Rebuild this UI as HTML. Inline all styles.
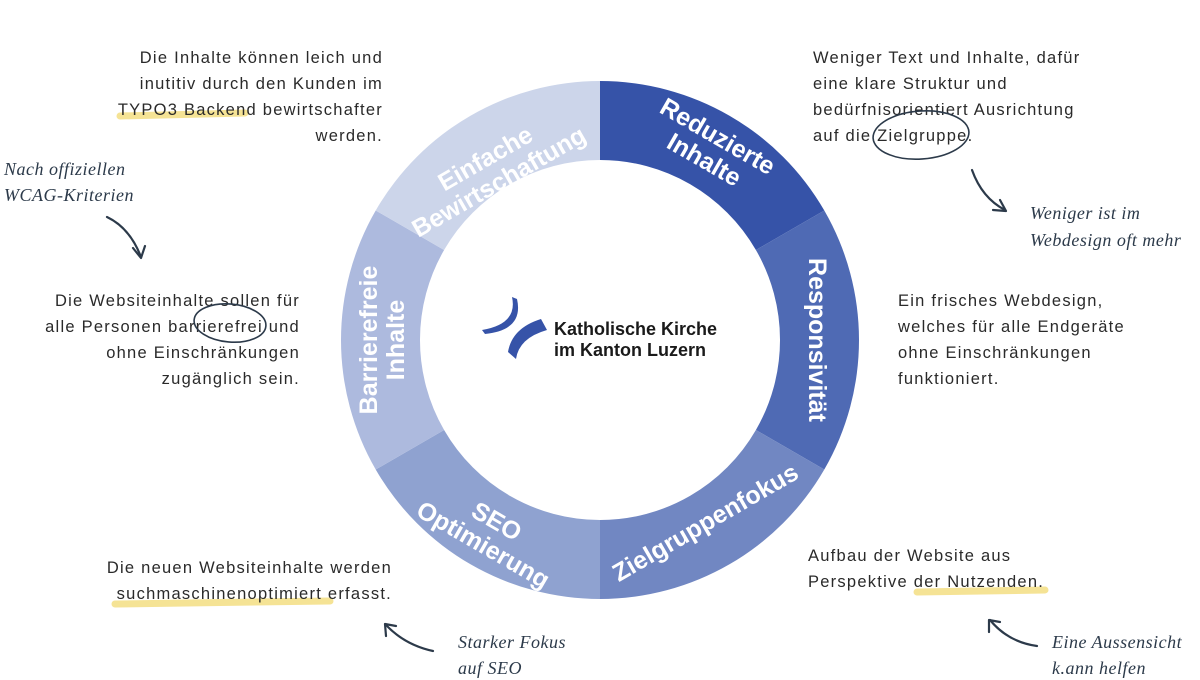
<!DOCTYPE html>
<html><head><meta charset="utf-8"><style>
html,body{margin:0;padding:0;background:#fff;}
svg{display:block}
.b{font-family:"Liberation Sans",sans-serif;font-size:16.5px;fill:#2a2a2a;letter-spacing:1.25px}
.h{font-family:"Liberation Serif",serif;font-style:italic;font-size:18px;fill:#2c3a4a;letter-spacing:0.5px}
.s{font-family:"Liberation Sans",sans-serif;font-size:25px;font-weight:bold;fill:#fff;text-anchor:middle}
</style></head><body>
<svg width="1200" height="680" viewBox="0 0 1200 680" xmlns="http://www.w3.org/2000/svg">
<!-- highlights -->
<path d="M120 116 L245 113" stroke="#f5e08a" stroke-width="7" stroke-linecap="round" opacity="0.9"/>
<path d="M115 604 L330 601" stroke="#f5e08a" stroke-width="7" stroke-linecap="round" opacity="0.9"/>
<path d="M917 592 L1045 590" stroke="#f5e08a" stroke-width="7" stroke-linecap="round" opacity="0.9"/>
<g>
<path d="M600 81 A259 259 0 0 1 824.3 210.5 L755.9 250 A180 180 0 0 0 600 160 Z" fill="#3653a8"/>
<path d="M824.3 210.5 A259 259 0 0 1 824.3 469.5 L755.9 430 A180 180 0 0 0 755.9 250 Z" fill="#4f6ab4"/>
<path d="M824.3 469.5 A259 259 0 0 1 600 599 L600 520 A180 180 0 0 0 755.9 430 Z" fill="#7187c2"/>
<path d="M600 599 A259 259 0 0 1 375.7 469.5 L444.1 430 A180 180 0 0 0 600 520 Z" fill="#8fa2d0"/>
<path d="M375.7 469.5 A259 259 0 0 1 375.7 210.5 L444.1 250 A180 180 0 0 0 444.1 430 Z" fill="#adbade"/>
<path d="M375.7 210.5 A259 259 0 0 1 600 81 L600 160 A180 180 0 0 0 444.1 250 Z" fill="#ccd5ea"/>
</g>
<g transform="translate(711,148) rotate(30)"><text class="s" y="-5">Reduzierte</text><text class="s" y="22">Inhalte</text></g>
<g transform="translate(818,340) rotate(90)"><text class="s" y="9">Responsivität</text></g>
<g transform="translate(705,522) rotate(-30)"><text class="s" y="9">Zielgruppenfokus</text></g>
<g transform="translate(490,533) rotate(30)"><text class="s" y="-5">SEO</text><text class="s" y="22">Optimierung</text></g>
<g transform="translate(382,340) rotate(-90)"><text class="s" y="-5">Barrierefreie</text><text class="s" y="22">Inhalte</text></g>
<g transform="translate(492,170) rotate(-30)"><text class="s" y="-5">Einfache</text><text class="s" y="22">Bewirtschaftung</text></g>
<!-- logo -->
<path d="M512 297 Q518 324 482 330 L485 334 Q524 330 517 299 Z" fill="#3653a8"/>
<path d="M541 319 Q512 328 508 352 L516 359 Q519 338 547 330 Z" fill="#3653a8"/>
<text x="554" y="335" font-family="Liberation Sans,sans-serif" font-weight="bold" font-size="18" fill="#1a1a1a">Katholische Kirche</text>
<text x="554" y="356" font-family="Liberation Sans,sans-serif" font-weight="bold" font-size="18" fill="#1a1a1a">im Kanton Luzern</text>
<g text-anchor="end">
<text x="383" y="63" class="b">Die Inhalte können leich und</text>
<text x="383" y="89" class="b">inutitiv durch den Kunden im</text>
<text x="383" y="115" class="b">TYPO3 Backend bewirtschafter</text>
<text x="383" y="141" class="b">werden.</text>
<text x="300" y="306" class="b">Die Websiteinhalte sollen für</text>
<text x="300" y="332" class="b">alle Personen barrierefrei und</text>
<text x="300" y="358" class="b">ohne Einschränkungen</text>
<text x="300" y="384" class="b">zugänglich sein.</text>
<text x="392" y="573" class="b">Die neuen Websiteinhalte werden</text>
<text x="392" y="599" class="b">suchmaschinenoptimiert erfasst.</text>
</g>
<text x="813" y="63" class="b">Weniger Text und Inhalte, dafür</text>
<text x="813" y="89" class="b">eine klare Struktur und</text>
<text x="813" y="115" class="b">bedürfnisorientiert Ausrichtung</text>
<text x="813" y="141" class="b">auf die Zielgruppe.</text>
<text x="898" y="306" class="b">Ein frisches Webdesign,</text>
<text x="898" y="332" class="b">welches für alle Endgeräte</text>
<text x="898" y="358" class="b">ohne Einschränkungen</text>
<text x="898" y="384" class="b">funktioniert.</text>
<text x="808" y="561" class="b">Aufbau der Website aus</text>
<text x="808" y="587" class="b">Perspektive der Nutzenden.</text>
<text x="4" y="175" class="h">Nach offiziellen</text>
<text x="4" y="201" class="h">WCAG-Kriterien</text>
<text x="1030" y="219" class="h">Weniger ist im</text>
<text x="1030" y="246" class="h">Webdesign oft mehr</text>
<text x="458" y="648" class="h">Starker Fokus</text>
<text x="458" y="674" class="h">auf SEO</text>
<text x="1052" y="648" class="h">Eine Aussensicht</text>
<text x="1052" y="674" class="h">k.ann helfen</text>
<ellipse cx="230" cy="323" rx="36" ry="19" fill="none" stroke="#2c3a4a" stroke-width="1.6" transform="rotate(5 230 323)"/>
<ellipse cx="921" cy="135" rx="48" ry="24" fill="none" stroke="#2c3a4a" stroke-width="1.6" transform="rotate(-4 921 135)"/>
<g fill="none" stroke="#2c3a4a" stroke-width="2.2" stroke-linecap="round" stroke-linejoin="round">
<path d="M107 217 Q130 228 141 257"/><path d="M133 248 L141 258 L145 246"/>
<path d="M972 170 Q982 198 1005 210"/><path d="M993 210 L1006 211 L1000 200"/>
<path d="M433 651 Q405 645 386 625"/><path d="M386 636 L385 624 L396 626"/>
<path d="M1037 646 Q1008 642 990 620"/><path d="M989 632 L989 620 L1000 622"/>
</g>
</svg>
</body></html>
